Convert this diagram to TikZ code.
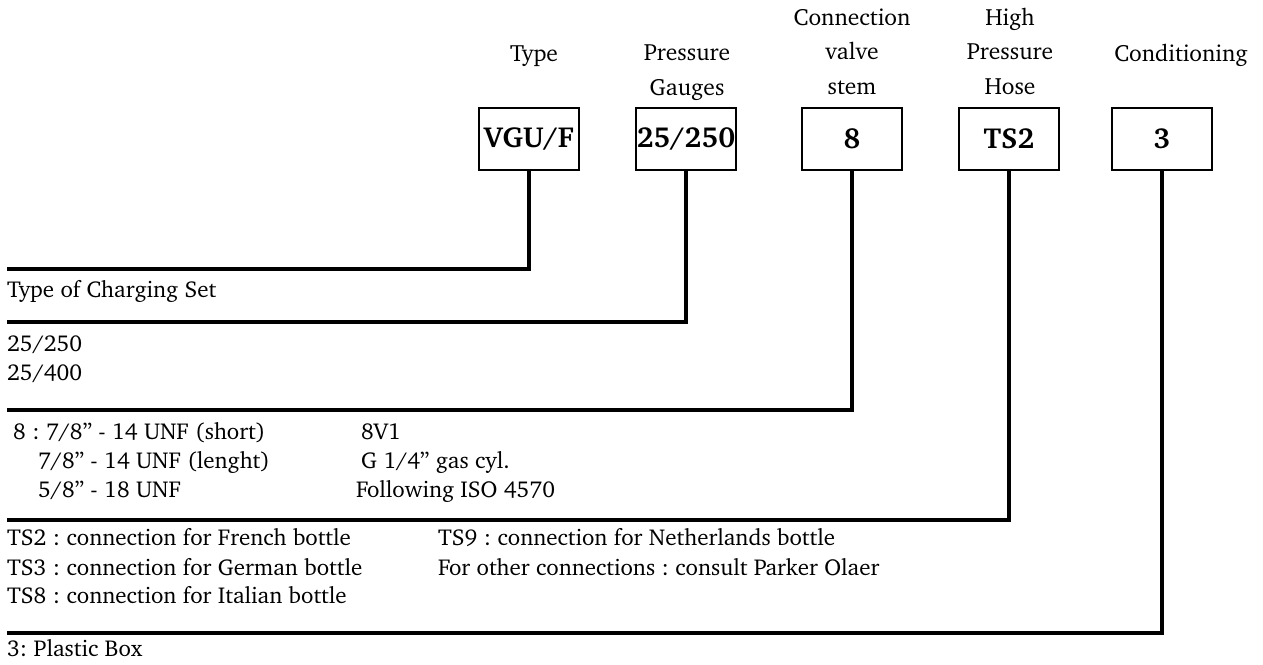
\documentclass[tikz,border=0pt]{standalone}
\usepackage[T1]{fontenc}
\usepackage{charter}
\usetikzlibrary{positioning}
\frenchspacing

\begin{document}
\begin{tikzpicture}[x=1pt,y=-1pt,
  codebox/.style={draw,line width=1.3pt,minimum width=100pt,minimum height=62pt,inner sep=0pt,font=\fontsize{29}{29}\selectfont\bfseries},
  head/.style={align=center,anchor=base,inner sep=0pt,font=\fontsize{23.5}{34.2}\selectfont},
  txt/.style={anchor=base west,inner sep=0pt,font=\fontsize{23}{29}\selectfont},
  lead/.style={line width=3.2pt}]
  \def\lx{7}
  \useasboundingbox (0,0) rectangle (1263,664);

%code boxes:
  \node[codebox] (type) at (529,139) {VGU/F};
  \node[codebox] (gauge) at (686,139) {25/250};
  \node[codebox] (stem) at (852,139) {8};
  \node[codebox] (hose) at (1009,139) {TS2};
  \node[codebox] (cond) at (1162,139) {3};

%headings (base = last line):
  \node[head] (typeH) at (534,61) {Type};
  \node[head] (gaugeH) at (687,95) {Pressure\\Gauges};
  \node[head] (stemH) at (852,94) {Connection\\valve\\stem};
  \node[head] (hoseH) at (1010,94) {High\\Pressure\\Hose};
  \node[head] (condH) at (1181,61) {Conditioning};

%leader lines:
  \coordinate (typeL) at (\lx,269);
  \coordinate (gaugeL) at (\lx,322);
  \coordinate (stemL) at (\lx,410);
  \coordinate (hoseL) at (\lx,520);
  \coordinate (condL) at (\lx,633);
  \draw[lead] (type.south) |- (typeL);
  \draw[lead] (gauge.south) |- (gaugeL);
  \draw[lead] (stem.south) |- (stemL);
  \draw[lead] (hose.south) |- (hoseL);
  \draw[lead] (cond.south) |- (condL);

%options:
  \node[txt] (typeT) at (\lx,297) {Type of Charging Set};

  \node[txt] (gaugeA) at (\lx,351) {25/250};
  \node[txt] (gaugeB) at (\lx,380) {25/400};

  \node[txt] (stemA) at (13,439) {8 : 7/8'' - 14 UNF (short)};
  \node[txt] (stemB) at (38,468) {7/8'' - 14 UNF (lenght)};
  \node[txt] (stemC) at (38,497) {5/8'' - 18 UNF};
  \node[txt] (stemD) at (361,439) {8V1};
  \node[txt] (stemE) at (361,468) {G 1/4'' gas cyl.};
  \node[txt] (stemF) at (356,497) {Following ISO 4570};

  \node[txt] (hoseA) at (\lx,545) {TS2 : connection for French bottle};
  \node[txt] (hoseB) at (\lx,575) {TS3 : connection for German bottle};
  \node[txt] (hoseC) at (\lx,603) {TS8 : connection for Italian bottle};
  \node[txt] (hoseD) at (438,545) {TS9 : connection for Netherlands bottle};
  \node[txt] (hoseE) at (438,575) {For other connections : consult Parker Olaer};

  \node[txt] (condT) at (\lx,656) {3: Plastic Box};

\end{tikzpicture}
\end{document}
